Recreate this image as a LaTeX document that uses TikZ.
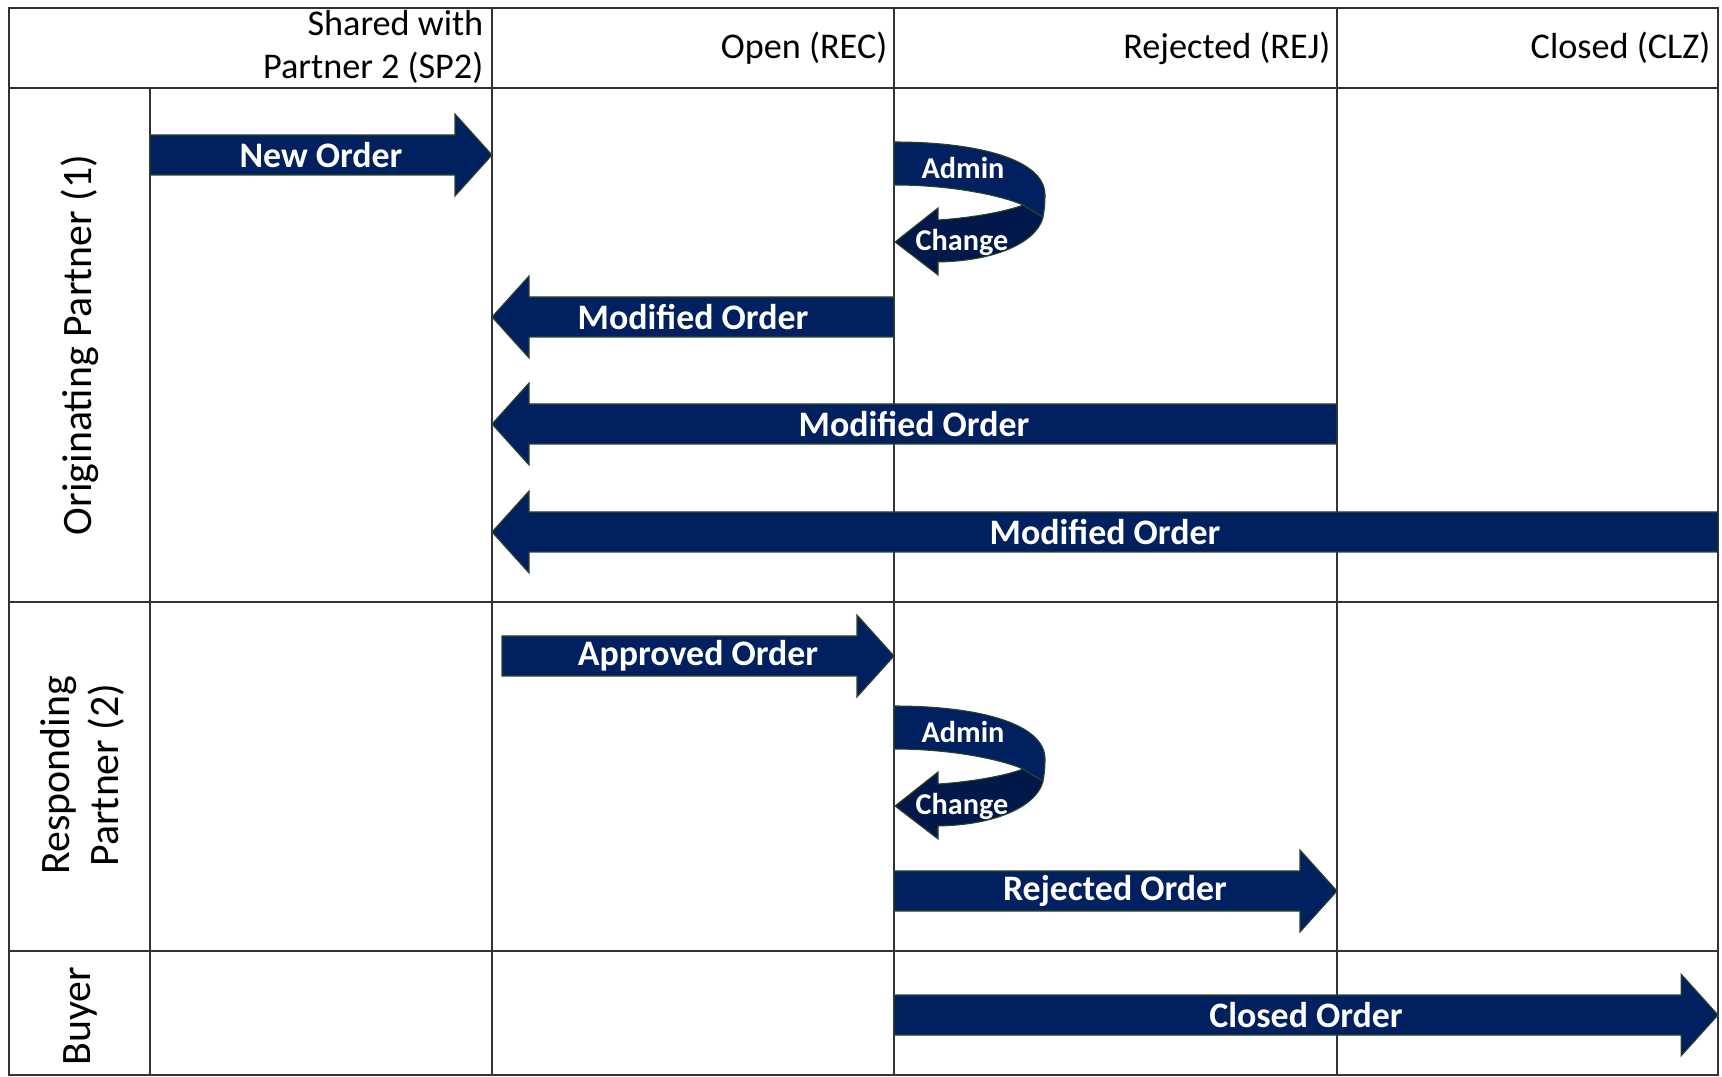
\documentclass[tikz,border=0pt]{standalone}
\usepackage{fontspec}
\setmainfont{Carlito}
\definecolor{ordblue}{RGB}{0,32,96}
\definecolor{ordback}{RGB}{0,24,74}
\definecolor{ordedge}{RGB}{45,70,35}
\tikzset{
    lanegrid/.style={draw=black!80, line width=0.6pt},
    ordarrow/.style={fill=ordblue, draw=ordedge, line width=0.3pt},
    arrowtext/.style={text=white, font=\fontsize{10.2}{12}\selectfont\bfseries},
    curltext/.style={text=white, font=\fontsize{8.6}{10}\selectfont\bfseries},
    colhead/.style={anchor=east, align=right, inner sep=0pt, font=\fontsize{10.3}{12.3}\selectfont},
    rowhead/.style={rotate=90, align=center, font=\fontsize{11.9}{14}\selectfont}
}
% block arrows: #1 = start x, #2 = end x, #3 = centre y
\newcommand{\rblock}[3]{\path[ordarrow] (#1,#3-20) -- (#2-37,#3-20) -- (#2-37,#3-41) -- (#2,#3) -- (#2-37,#3+41) -- (#2-37,#3+20) -- (#1,#3+20) -- cycle;}
\newcommand{\lblock}[3]{\path[ordarrow] (#1,#3) -- (#1+37,#3-41) -- (#1+37,#3-20) -- (#2,#3-20) -- (#2,#3+20) -- (#1+37,#3+20) -- (#1+37,#3+41) -- cycle;}

\begin{document}
\begin{tikzpicture}[x=0.01cm, y=-0.01cm]
    \useasboundingbox (0,0) rectangle (1722,1077);
    % table
    \draw[lanegrid] (9,8) rectangle (1718,1075);
    \draw[lanegrid] (9,88) -- (1718,88);
    \draw[lanegrid] (9,602) -- (1718,602);
    \draw[lanegrid] (9,951) -- (1718,951);
    \draw[lanegrid] (150,88) -- (150,1075);
    \foreach \x in {492,894,1337}
        \draw[lanegrid] (\x,8) -- (\x,1075);

    \begin{scope}[every node/.style={colhead}]
        \node (SP2) at (484,47) {Shared with\\Partner 2 (SP2)};
        \node (REC) at (888,48) {Open (REC)};
        \node (REJ) at (1331,48) {Rejected (REJ)};
        \node (CLZ) at (1711,48) {Closed (CLZ)};
    \end{scope}
    \begin{scope}[every node/.style={rowhead}]
        \node (orig) at (80,345) {Originating Partner (1)};
        \node (resp) at (82,775) {Responding\\Partner (2)};
        \node (buyer) at (80,1016) {Buyer};
    \end{scope}

    % order arrows
    \rblock{150}{492}{155}
    \lblock{492}{894}{317}
    \lblock{492}{1337}{424}
    \lblock{492}{1718}{532}
    \rblock{502}{894}{656}
    \rblock{894}{1337}{891}
    \rblock{894}{1718}{1015}
    \begin{scope}[every node/.style={arrowtext}]
        \node (new) at (321,155) {New Order};
        \node (mod1) at (693,317) {Modified Order};
        \node (mod2) at (914,424) {Modified Order};
        \node (mod3) at (1105,532) {Modified Order};
        \node (appr) at (698,656) {Approved Order};
        \node (rej) at (1115,891) {Rejected Order};
        \node (clz) at (1306,1015) {Closed Order};
    \end{scope}

    % admin change loops
    \foreach \dy/\k in {0/1,564/2} {
        \begin{scope}[shift={(0,\dy)}]
            \path[fill=ordback, draw=ordedge, line width=0.3pt] (1043,217) .. controls (1038,240) and (1000,261) .. (938,262) -- (938,275) -- (895,242) -- (938,208) -- (938,220) .. controls (970,218) and (1005,212) .. (1023,205) -- cycle;
            \path[ordarrow] (894,142) .. controls (980,142) and (1045,160) .. (1045,195) .. controls (1045,205) and (1044,212) .. (1043,217) -- (1023,205) .. controls (1000,195) and (950,185) .. (894,185) -- cycle;
            \node[curltext] (admin\k) at (963,168) {Admin};
            \node[curltext] (change\k) at (962,242) {Change};
        \end{scope}
    }
\end{tikzpicture}
\end{document}
